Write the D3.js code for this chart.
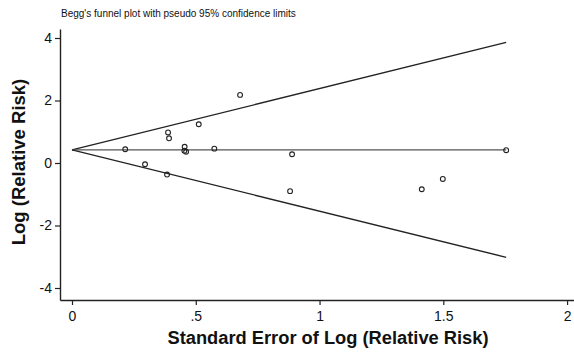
<!DOCTYPE html>
<html lang="en">
  <head>
    <meta charset="utf-8" />
    <style>
      body { margin: 0; background: #fff; }
      svg { font-family: "Liberation Sans", Arial, sans-serif; }
    </style>
  </head>
  <body>
    <svg id="chart" width="574" height="354"></svg>
    <script src="https://cdn.jsdelivr.net/npm/d3@7"></script>
    <script>
      // study estimates
      const se = [0.215, 0.295, 0.384, 0.388, 0.392, 0.455, 0.454, 0.461, 0.512, 0.575, 0.679, 0.889, 0.881, 1.413, 1.498, 1.754];
      const logRR = [0.44, -0.04, -0.37, 0.98, 0.79, 0.52, 0.39, 0.36, 1.24, 0.46, 2.18, 0.28, -0.90, -0.84, -0.51, 0.41];
      const pooled = 0.42;
      const seMax = 1.754;
      const xTicks = [0, 0.5, 1, 1.5, 2];
      const xTickLabels = ["0", ".5", "1", "1.5", "2"];
      const yTicks = [-4, -2, 0, 2, 4];

      const svg = d3.select("#chart");

      const x = d3.scaleLinear().domain([-0.0485, 2.028]).range([60, 574]);
      const y = d3.scaleLinear().domain([-4.384, 4.288]).range([300, 29]);

      // axes
      const xAxis = svg.append("g")
        .attr("transform", "translate(0,300)")
        .call(d3.axisBottom(x).tickValues(xTicks).tickFormat((d, i) => xTickLabels[i]).tickSize(5).tickSizeOuter(0));
      const yAxis = svg.append("g")
        .attr("transform", "translate(60,0)")
        .call(d3.axisLeft(y).tickValues(yTicks).tickFormat(d => String(d)).tickSize(5).tickSizeOuter(0));

      [xAxis, yAxis].forEach(g => {
        g.select(".domain").attr("stroke", "#222").attr("stroke-width", 1.4);
        g.selectAll(".tick line").attr("stroke", "#222").attr("stroke-width", 1.2);
        g.selectAll(".tick text")
          .attr("fill", "#111")
          .style("font-size", "14px")
          .style("font-family", "Liberation Sans, Arial, sans-serif");
      });
      xAxis.selectAll(".tick text").attr("dy", "0.95em");
      yAxis.selectAll(".tick text").attr("x", -8);

      // pseudo 95% limits
      const funnel = [
        [[0, pooled], [seMax, pooled + 1.96 * seMax]],
        [[0, pooled], [seMax, pooled]],
        [[0, pooled], [seMax, pooled - 1.96 * seMax]]
      ];
      const line = d3.line().x(d => x(d[0])).y(d => y(d[1]));
      svg.append("g")
        .selectAll("path")
        .data(funnel)
        .join("path")
        .attr("d", line)
        .attr("fill", "none")
        .attr("stroke", (d, i) => i === 1 ? "#555" : "#222")
        .attr("stroke-width", 1.4);

      // studies
      svg.append("g")
        .selectAll("circle")
        .data(se)
        .join("circle")
        .attr("cx", d => x(d))
        .attr("cy", (d, i) => y(logRR[i]))
        .attr("r", 2.4)
        .attr("fill", "none")
        .attr("stroke", "#222")
        .attr("stroke-width", 1.1);

      // text
      svg.append("text")
        .attr("x", 61)
        .attr("y", 17)
        .attr("fill", "#111")
        .style("font-size", "10px")
        .text("Begg's funnel plot with pseudo 95% confidence limits");

      svg.append("text")
        .attr("x", 328)
        .attr("y", 344)
        .attr("text-anchor", "middle")
        .attr("fill", "#111")
        .style("font-size", "18.3px")
        .style("font-weight", "bold")
        .text("Standard Error of Log (Relative Risk)");

      svg.append("text")
        .attr("transform", "translate(25,162) rotate(-90)")
        .attr("text-anchor", "middle")
        .attr("fill", "#111")
        .style("font-size", "18.5px")
        .style("font-weight", "bold")
        .text("Log (Relative Risk)");
    </script>
  </body>
</html>
